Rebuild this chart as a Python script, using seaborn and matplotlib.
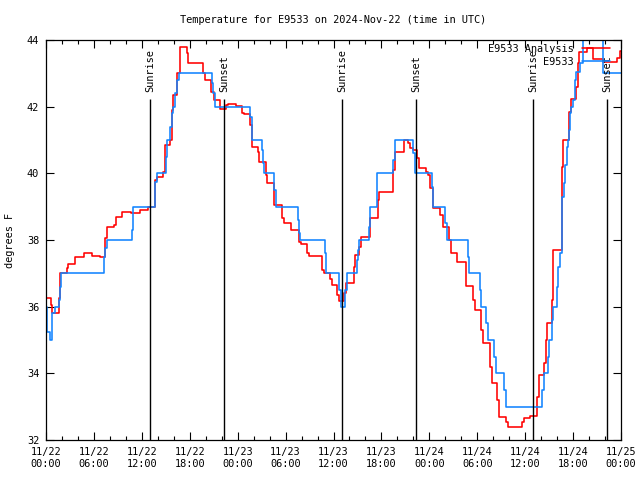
import numpy as np
import pandas as pd
import matplotlib
matplotlib.use("Agg")
import matplotlib.pyplot as plt
import matplotlib.dates as mdates
import seaborn as sns

# ---------------- data ----------------
start = pd.Timestamp("2024-11-22 00:00")
title = "Temperature for E9533 on 2024-Nov-22 (time in UTC)"
y_label = "degrees F"
analysis_label = "E9533 Analysis"
obs_label = "E9533"

# analysis (red) step series: hours since start, temperature
analysis_hours = [0.0, 0.6, 0.8, 1.6, 1.8, 2.6, 2.8, 3.6, 4.7, 5.7, 6.7, 7.4, 7.7, 8.5,
                  8.75, 9.55, 10.7, 11.75, 12.8, 13.65, 13.85, 14.6, 14.85, 15.5, 15.75,
                  15.95, 16.4, 16.75, 17.6, 17.8, 19.7, 19.9, 20.7, 21.0, 21.8, 22.5, 22.8,
                  23.8, 24.6, 24.8, 25.6, 25.8, 26.6, 26.7, 27.5, 27.7, 28.5, 29.6, 29.8,
                  30.7, 31.7, 31.9, 32.7, 32.9, 34.6, 34.85, 35.6, 35.8, 36.5, 36.7, 37.3,
                  37.6, 38.55, 38.7, 39.2, 39.5, 40.6, 41.55, 41.75, 43.5, 43.7, 44.5, 44.8,
                  45.3, 45.6, 46.0, 46.5, 46.75, 47.6, 47.8, 48.1, 48.5, 49.35, 49.7, 50.5,
                  50.7, 51.5, 52.6, 53.5, 53.7, 54.5, 54.7, 55.6, 55.8, 56.5, 56.75, 57.6,
                  57.8, 59.6, 59.9, 60.6, 61.5, 61.7, 62.4, 62.6, 62.75, 63.35, 63.5, 64.55,
                  64.75, 65.5, 65.75, 66.4, 66.6, 66.8, 67.7, 68.5, 69.75, 71.45, 71.85, 72.0]
analysis_temps = [36.25, 36.05, 35.8, 36.25, 37.0, 37.15, 37.28, 37.5, 37.6, 37.53, 37.48,
                  38.05, 38.4, 38.45, 38.7, 38.85, 38.82, 38.9, 38.98, 39.8, 39.9, 40.05,
                  40.85, 41.0, 41.9, 42.35, 43.0, 43.78, 43.6, 43.3, 43.0, 42.8, 42.45, 42.2,
                  41.92, 42.05, 42.08, 42.02, 41.8, 41.77, 41.45, 40.8, 40.65, 40.35, 39.95,
                  39.7, 39.05, 38.65, 38.5, 38.3, 37.95, 37.88, 37.6, 37.52, 37.1, 37.02,
                  36.82, 36.65, 36.35, 36.18, 36.4, 36.7, 37.2, 37.55, 37.8, 38.1, 38.65,
                  39.2, 39.43, 40.1, 40.63, 40.65, 41.0, 40.9, 40.75, 40.7, 40.45, 40.15,
                  40.05, 39.95, 39.55, 38.95, 38.75, 38.38, 38.0, 37.6, 37.35, 36.62, 36.2,
                  35.9, 35.3, 34.92, 34.2, 33.7, 33.2, 32.7, 32.55, 32.4, 32.55, 32.65,
                  32.73, 33.3, 33.95, 34.3, 35.0, 35.5, 36.2, 37.7, 40.2, 41.0, 41.85, 42.22,
                  42.6, 43.3, 43.65, 43.77, 43.42, 43.35, 43.45, 43.67, 43.67]

# station observations (blue) step series
obs_hours = [0.0, 0.15, 0.45, 0.8, 1.1, 1.6, 1.75, 1.85, 7.3, 7.45, 7.6, 10.8, 10.95, 13.6,
             13.85, 15.05, 15.2, 15.55, 15.75, 15.95, 16.2, 16.45, 16.6, 20.8, 20.95, 21.1,
             25.6, 25.75, 27.05, 27.2, 27.3, 28.6, 28.8, 31.6, 31.7, 31.8, 34.9, 35.0, 36.75,
             36.95, 37.5, 37.65, 38.95, 39.05, 39.2, 40.5, 40.6, 41.4, 41.5, 43.5, 43.7,
             46.0, 46.2, 48.3, 48.5, 50.0, 50.2, 52.8, 53.0, 54.3, 54.5, 55.1, 55.3, 56.1,
             56.3, 57.3, 57.6, 62.1, 62.3, 62.8, 63.0, 63.3, 63.45, 64.0, 64.15, 64.35,
             64.55, 64.65, 64.8, 65.0, 65.2, 65.35, 65.5, 65.6, 65.7, 66.0, 66.2, 66.4,
             66.9, 67.25, 69.75, 72.0]
obs_temps = [36.0, 35.25, 35.0, 35.8, 36.0, 36.2, 36.6, 37.0, 37.5, 37.75, 38.0, 38.3, 39.0,
             39.75, 40.0, 40.5, 41.0, 41.4, 41.8, 42.0, 42.4, 42.8, 43.0, 42.7, 42.4, 42.0,
             41.7, 41.0, 40.7, 40.3, 40.0, 39.5, 39.0, 38.6, 38.2, 38.0, 37.6, 37.0, 36.5,
             36.0, 36.5, 37.0, 37.4, 37.7, 38.0, 38.4, 39.0, 39.5, 40.0, 40.4, 41.0, 40.6,
             40.0, 39.6, 39.0, 38.5, 38.0, 37.5, 37.0, 36.5, 36.0, 35.5, 35.0, 34.5, 34.0,
             33.5, 33.0, 33.5, 34.0, 34.5, 35.0, 35.6, 36.0, 36.6, 37.2, 37.6, 38.3, 39.3,
             39.7, 40.25, 40.8, 41.0, 41.3, 41.8, 42.0, 42.2, 42.8, 43.05, 43.3, 45.0, 43.0,
             43.0]

sun_hours = [13.02, 22.33, 37.07, 46.33, 61.0, 70.27]
sun_labels = ["Sunrise", "Sunset", "Sunrise", "Sunset", "Sunrise", "Sunset"]
y_ticks = [32, 34, 36, 38, 40, 42, 44]

# ---------------- build frames ----------------
df_a = pd.DataFrame({"time": start + pd.to_timedelta(analysis_hours, unit="h"),
                     "temp": analysis_temps})
df_o = pd.DataFrame({"time": start + pd.to_timedelta(obs_hours, unit="h"),
                     "temp": obs_temps})
sun_times = start + pd.to_timedelta(sun_hours, unit="h")

# ---------------- style ----------------
sns.set_style("ticks")
plt.rcParams["font.family"] = ["DejaVu Sans Mono"]
plt.rcParams["font.size"] = 7.4
plt.rcParams["text.color"] = "black"
plt.rcParams["axes.labelcolor"] = "black"
plt.rcParams["xtick.color"] = "black"
plt.rcParams["ytick.color"] = "black"

fig = plt.figure(figsize=(6.4, 4.8), dpi=100)
ax = fig.add_axes([46 / 640, 40 / 480, 575 / 640, 400 / 480])

red = "#ff0000"
blue = "#1184ff"

sns.lineplot(data=df_a, x="time", y="temp", ax=ax, color=red, lw=1.15,
             drawstyle="steps-post", label=analysis_label, estimator=None)
sns.lineplot(data=df_o, x="time", y="temp", ax=ax, color=blue, lw=1.15,
             drawstyle="steps-post", label=obs_label, estimator=None)

# sunrise / sunset markers
ax.vlines(sun_times, 32, 42.23, color="black", lw=1.0, zorder=3)
for t, lab in zip(sun_times, sun_labels):
    ax.text(t, 42.44, lab, rotation=90, ha="center", va="bottom", fontsize=7.4)

ax.set_xlim(start, start + pd.Timedelta(hours=72))
ax.set_ylim(32, 44)
ax.set_yticks(y_ticks)
ax.xaxis.set_major_locator(mdates.HourLocator(byhour=[0, 6, 12, 18]))
ax.xaxis.set_minor_locator(mdates.HourLocator(byhour=list(range(0, 24, 2))))
ax.xaxis.set_major_formatter(mdates.DateFormatter("%m/%d\n%H:%M"))
ax.set_xlabel("")
ax.set_ylabel("")

ax.tick_params(axis="both", which="major", direction="in", top=True, right=True,
               length=6, width=0.8, labelsize=7.4)
ax.tick_params(axis="x", which="major", pad=5)
ax.tick_params(axis="y", which="major", pad=5)
ax.tick_params(axis="x", which="minor", direction="in", top=True, bottom=True,
               length=3, width=0.8)
for s in ax.spines.values():
    s.set_color("black")
    s.set_linewidth(0.9)

leg = ax.legend(loc="upper right", bbox_to_anchor=(0.981, 0.99), frameon=False,
                markerfirst=False, handlelength=2.7, handletextpad=0.8, borderpad=0,
                labelspacing=0.3, borderaxespad=0, fontsize=7.4)

fig.text(333 / 640, 1 - 20 / 480, title, ha="center", va="center", fontsize=7.4)
fig.text(10 / 640, 0.5, y_label, rotation=90, ha="center", va="center", fontsize=7.4)

fig.savefig("out.png", dpi=100)
